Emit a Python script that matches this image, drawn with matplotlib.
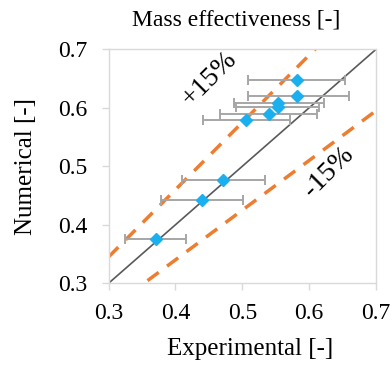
import matplotlib
matplotlib.use("Agg")
import matplotlib.pyplot as plt
import numpy as np

# Data
exp_vals = [0.582, 0.582, 0.554, 0.553, 0.540, 0.506, 0.471, 0.440, 0.371]
num_vals = [0.648, 0.621, 0.609, 0.601, 0.590, 0.580, 0.476, 0.442, 0.376]
xerr_low = [0.074, 0.074, 0.067, 0.063, 0.073, 0.065, 0.061, 0.061, 0.046]
xerr_high = [0.071, 0.078, 0.068, 0.062, 0.072, 0.066, 0.063, 0.061, 0.045]
ticks = [0.3, 0.4, 0.5, 0.6, 0.7]
band = 0.15

plt.rcParams['font.family'] = ['Liberation Serif', 'DejaVu Serif']

fig = plt.figure(figsize=(3.92, 3.67), dpi=100)
ax = fig.add_axes([0.2768, 0.228, 0.6824, 0.6376])

line_x = np.array([0.3, 0.7])
ax.plot(line_x, line_x, color='#595959', lw=1.2, zorder=2)
ax.plot(line_x, line_x * (1 + band), color='#ED7D31', lw=2.5, ls=(0, (4, 3)), zorder=2)
ax.plot(line_x, line_x * (1 - band), color='#ED7D31', lw=2.5, ls=(0, (4, 3)), zorder=2)

ax.errorbar(exp_vals, num_vals, xerr=[xerr_low, xerr_high], fmt='none',
            ecolor='#A6A6A6', elinewidth=1.4, capsize=3.5, capthick=1.4, zorder=3)
ax.plot(exp_vals, num_vals, ls='none', marker='D', ms=6.5, color='#1AB0F0',
        mec='#1AB0F0', zorder=4)

ax.text(0.451, 0.650, '+15%', rotation=45, ha='center', va='center', fontsize=20)
ax.text(0.629, 0.490, '-15%', rotation=45, ha='center', va='center', fontsize=20)

ax.set_xlim(0.3, 0.7)
ax.set_ylim(0.3, 0.7)
ax.set_xticks(ticks)
ax.set_yticks(ticks)
ax.set_xticklabels([f'{t:.1f}' for t in ticks], fontsize=17)
ax.set_yticklabels([f'{t:.1f}' for t in ticks], fontsize=17)
for s in ax.spines.values():
    s.set_color('#D9D9D9')
    s.set_linewidth(1.0)
ax.tick_params(direction='out', length=5, color='#D9D9D9', width=1.0)
ax.tick_params(axis='x', pad=9)
ax.tick_params(axis='y', pad=10)
ax.set_title('Mass effectiveness [-]', fontsize=17, pad=17, x=0.4785)
ax.set_xlabel('Experimental [-]', fontsize=18)
ax.set_ylabel('Numerical [-]', fontsize=18, labelpad=15)
ax.xaxis.set_label_coords(0.529, -0.235)

fig.savefig('out.png', dpi=100)
